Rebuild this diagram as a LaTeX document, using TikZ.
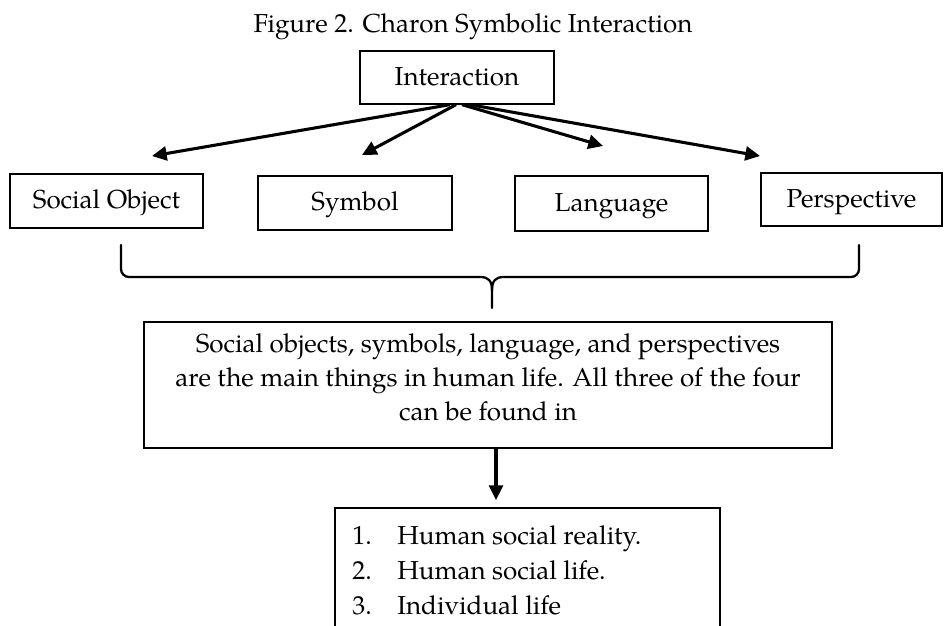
\documentclass[tikz,border=0pt]{standalone}
\usepackage{fontspec}
\setmainfont{texgyrepagella}[Extension=.otf, UprightFont=*-regular, BoldFont=*-bold, ItalicFont=*-italic, BoldItalicFont=*-bolditalic]
\usetikzlibrary{arrows.meta,calc}
\tikzset{
  txt/.style={font=\fontsize{19.5}{24}\selectfont, inner sep=0pt},
  boxed/.style={txt, draw=black, line width=1pt, text height=14.6pt, text depth=2.9pt},
  arr/.style={line width=2.3pt, -{Triangle[length=11pt,width=10.5pt]}},
  bracestyle/.style={line width=1.7pt, line cap=round, line join=round}
}
\begin{document}
\begin{tikzpicture}[x=0.75pt,y=-0.75pt]
\useasboundingbox (0,0) rectangle (945,625);
\clip (0,0) rectangle (945,625);
\fill[white] (0,0) rectangle (945,625);

% title
\node[txt, anchor=base] (title) at (473,32) {Figure 2. Charon Symbolic Interaction};

% top box
\node[boxed, minimum width=145.5pt, minimum height=39.75pt] (inter) at (457,77.5) {Interaction};

% row of boxes
\node[boxed, minimum width=144.75pt, minimum height=40.5pt] (soc) at (106.5,201) {Social Object};
\node[boxed, minimum width=145.5pt, minimum height=40.5pt] (sym) at (355,203) {Symbol};
\node[boxed, minimum width=144.75pt, minimum height=41.25pt] (lang) at (611.5,203.5) {Language};
\node[boxed, minimum width=135.75pt, minimum height=39.75pt] (persp) at (851.5,199.5) {Perspective};

% arrow tips
\coordinate (t1) at (152,156);
\coordinate (t2) at (362,155);
\coordinate (t3) at (603,146);
\coordinate (t4) at (760,156);
\draw[arr] ([xshift=-5.25pt]inter.south) -- (t1);
\draw[arr] ([xshift=-0.75pt]inter.south) -- (t2);
\draw[arr] ([xshift=3.75pt]inter.south) -- (t3);
\draw[arr] ([xshift=9.75pt]inter.south) -- (t4);

% brace
\draw[bracestyle, rounded corners=6pt] (121,245) -- (121,277) -- (480,277);
\draw[bracestyle] (480,277) .. controls (489,277) and (492,281) .. (492,291) -- (492,308);
\draw[bracestyle, rounded corners=6pt] (859,245) -- (859,277) -- (504,277);
\draw[bracestyle] (504,277) .. controls (495,277) and (492,281) .. (492,291);

% paragraph box
\node[draw=black, line width=1pt, minimum width=516pt, minimum height=94.5pt, inner sep=0pt] (para) at (488,385) {};
\node[txt, anchor=base] (p1) at (488,352) {Social objects, symbols, language, and perspectives};
\node[txt, anchor=base] (p2) at (488,386) {are the main things in human life. All three of the four};
\node[txt, anchor=base] (p3) at (488,420) {can be found in};

% arrow down
\coordinate (listtip) at (496,500);
\draw[arr] ([xshift=6pt]para.south) -- (listtip);

% list box (bottom cut off)
\node[draw=black, line width=1pt, minimum width=288.75pt, minimum height=114pt, inner sep=0pt] (list) at (527.5,584) {};
\node[txt, anchor=base west] (n1) at (352,544) {1.};
\node[txt, anchor=base west] (n2) at (352,579) {2.};
\node[txt, anchor=base west] (n3) at (352,614) {3.};
\node[txt, anchor=base west] (l1) at (397,544) {Human social reality.};
\node[txt, anchor=base west] (l2) at (397,579) {Human social life.};
\node[txt, anchor=base west] (l3) at (397,614) {Individual life};
\end{tikzpicture}
\end{document}
